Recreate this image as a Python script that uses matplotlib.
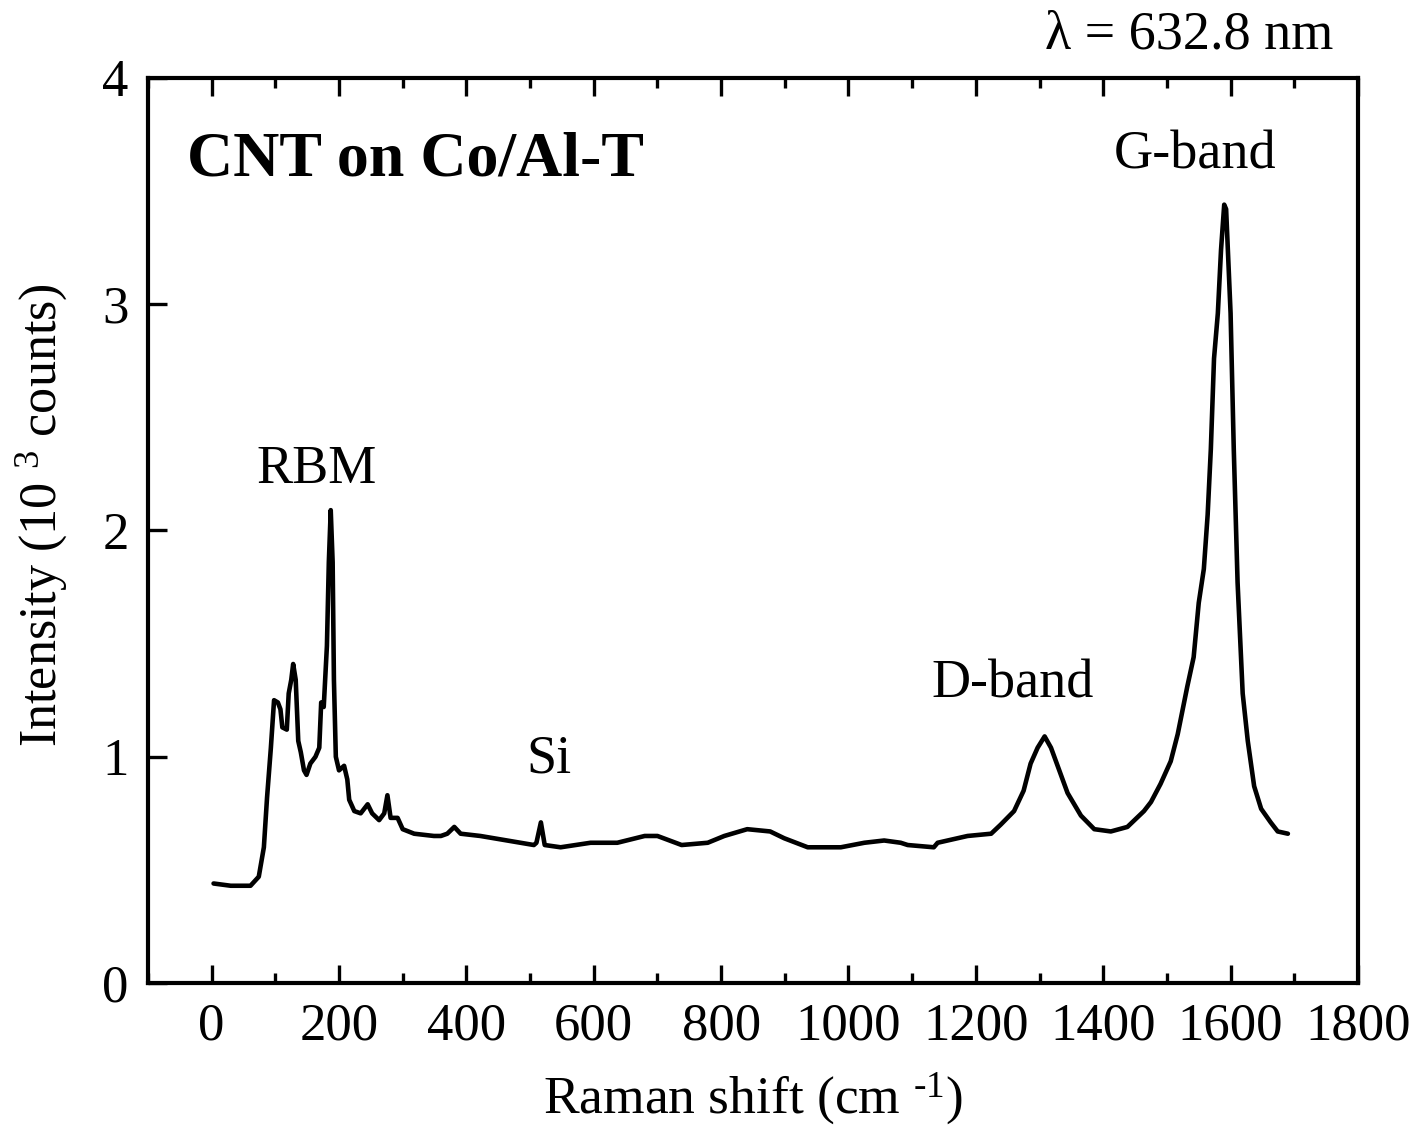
import matplotlib
matplotlib.use("Agg")
import matplotlib.pyplot as plt
from matplotlib.ticker import MultipleLocator, FixedLocator

plt.rcParams['font.family'] = ['Liberation Serif', 'DejaVu Serif']
plt.rcParams['mathtext.fontset'] = 'custom'
plt.rcParams['mathtext.rm'] = 'Liberation Serif'
plt.rcParams['mathtext.it'] = 'Liberation Serif:italic'
plt.rcParams['mathtext.bf'] = 'Liberation Serif:bold'

# Raman shift (cm^-1)
shift = [3, 30, 61, 74, 82, 87, 93, 98, 104, 108, 111, 118, 121, 125, 128, 132, 136,
         140, 145, 149, 155, 163, 169, 172, 176, 181, 184, 187, 190, 192, 195, 200,
         208, 213, 216, 224, 234, 245, 252, 263, 271, 276, 281, 292, 300, 318, 349,
         360, 370, 381, 391, 422, 464, 506, 510, 517, 523, 548, 595, 637, 680, 700,
         738, 779, 805, 841, 877, 899, 936, 988, 1025, 1056, 1082, 1093, 1134, 1140,
         1187, 1224, 1239, 1260, 1275, 1286, 1297, 1308, 1318, 1331, 1344, 1365,
         1386, 1412, 1438, 1464, 1475, 1490, 1506, 1517, 1532, 1542, 1550, 1558,
         1564, 1569, 1574, 1580, 1585, 1590, 1593, 1600, 1605, 1611, 1619, 1627,
         1637, 1648, 1663, 1674, 1690]
# Intensity (10^3 counts)
intensity = [0.44, 0.43, 0.43, 0.47, 0.60, 0.82, 1.04, 1.25, 1.24, 1.21, 1.13, 1.12,
             1.28, 1.34, 1.41, 1.34, 1.07, 1.02, 0.94, 0.92, 0.97, 1.00, 1.04, 1.24,
             1.22, 1.49, 1.86, 2.09, 1.86, 1.34, 1.00, 0.94, 0.96, 0.90, 0.81, 0.76,
             0.75, 0.79, 0.75, 0.72, 0.75, 0.83, 0.73, 0.73, 0.68, 0.66, 0.65,
             0.65, 0.66, 0.69, 0.66, 0.65, 0.63, 0.61, 0.62, 0.71, 0.61, 0.60, 0.62,
             0.62, 0.65, 0.65, 0.61, 0.62, 0.65, 0.68, 0.67, 0.64, 0.60, 0.60, 0.62,
             0.63, 0.62, 0.61, 0.60, 0.62, 0.65, 0.66, 0.70, 0.76, 0.85, 0.97, 1.04,
             1.09, 1.04, 0.94, 0.84, 0.74, 0.68, 0.67, 0.69, 0.76, 0.80, 0.88, 0.98,
             1.10, 1.31, 1.44, 1.68, 1.83, 2.07, 2.36, 2.76, 2.96, 3.24, 3.44, 3.42,
             2.96, 2.36, 1.77, 1.28, 1.07, 0.87, 0.77, 0.71, 0.67, 0.66]

x_ticks = [0, 200, 400, 600, 800, 1000, 1200, 1400, 1600, 1800]
y_ticks = [0, 1, 2, 3, 4]

fig = plt.figure(figsize=(14.2, 11.28), dpi=100)
ax = fig.add_axes([0.1042, 0.1285, 0.8521, 0.8024])
ax.plot(shift, intensity, color='black', lw=3.3, solid_joinstyle='round',
        solid_capstyle='round')

ax.set_xlim(-100, 1800)
ax.set_ylim(0, 4)
ax.xaxis.set_major_locator(FixedLocator(x_ticks))
ax.xaxis.set_minor_locator(MultipleLocator(100))
ax.yaxis.set_major_locator(FixedLocator(y_ticks))
ax.tick_params(axis='x', which='major', direction='in', length=13, width=2.4,
               top=True, bottom=True, labelsize=38, pad=14)
ax.tick_params(axis='x', which='minor', direction='in', length=7, width=2.4,
               top=True, bottom=True)
ax.tick_params(axis='y', which='major', direction='in', length=14, width=2.4,
               left=True, right=False, labelsize=38, pad=14)
for s in ax.spines.values():
    s.set_linewidth(3)

ax.set_xlabel("Raman shift (cm $^{\u2010\\mathrm{1}}$)", fontsize=38.5, labelpad=14)
ax.set_ylabel(r"Intensity (10 $^{3}$ counts)", fontsize=37.5, labelpad=24)
ax.yaxis.label.set_y(0.517)

ax.text(-39, 3.57, "CNT on Co/Al-T", fontsize=46, fontweight='bold', ha='left', va='baseline')
ax.text(1545, 3.60, "G-band", fontsize=39, ha='center', va='baseline')
ax.text(165, 2.21, "RBM", fontsize=39, ha='center', va='baseline')
ax.text(529, 0.93, "Si", fontsize=39, ha='center', va='baseline')
ax.text(1258, 1.26, "D-band", fontsize=39, ha='center', va='baseline')
ax.text(1762, 4.13, "λ = 632.8 nm", fontsize=39, ha='right', va='baseline', clip_on=False)

fig.savefig("out.png", dpi=100)
